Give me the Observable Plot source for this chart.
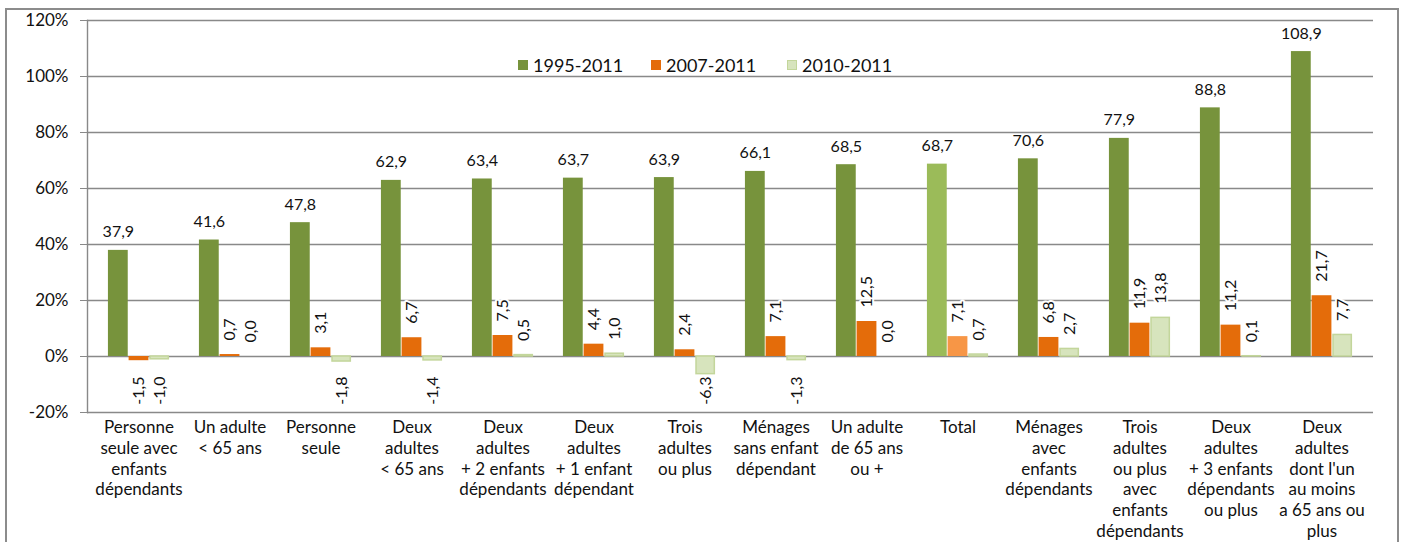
<!DOCTYPE html>
<html><head><meta charset="utf-8">
<script src="https://cdn.jsdelivr.net/npm/d3@7"></script>
<script src="https://cdn.jsdelivr.net/npm/@observablehq/plot@0.6"></script>
<style>
body{margin:0;background:#fff;font-family:Lato,"Open Sans",sans-serif;}
#wrap{position:relative;width:1403px;height:542px;overflow:hidden;}
#border{position:absolute;left:5px;top:8px;width:1390px;height:600px;border:2px solid #8c8c8c;pointer-events:none;}
.leg{position:absolute;top:54px;font-size:18px;color:#111;display:flex;align-items:center;white-space:nowrap;line-height:22px;}
.sw{width:10px;height:10px;margin-right:5px;box-sizing:border-box;}
</style></head><body>
<div id="wrap"><div id="chart"></div><div id="border"></div><div id="legend"></div></div>
<script>
const categories = [
  "Personne\nseule avec\nenfants\ndépendants",
  "Un adulte\n< 65 ans",
  "Personne\nseule",
  "Deux\nadultes\n< 65 ans",
  "Deux\nadultes\n+ 2 enfants\ndépendants",
  "Deux\nadultes\n+ 1 enfant\ndépendant",
  "Trois\nadultes\nou plus",
  "Ménages\nsans enfant\ndépendant",
  "Un adulte\nde 65 ans\nou +",
  "Total",
  "Ménages\navec\nenfants\ndépendants",
  "Trois\nadultes\nou plus\navec\nenfants\ndépendants",
  "Deux\nadultes\n+ 3 enfants\ndépendants\nou plus",
  "Deux\nadultes\ndont l'un\nau moins\na 65 ans ou\nplus"
];
const seriesNames = ["1995-2011", "2007-2011", "2010-2011"];
const s1995 = [37.9, 41.6, 47.8, 62.9, 63.4, 63.7, 63.9, 66.1, 68.5, 68.7, 70.6, 77.9, 88.8, 108.9];
const s2007 = [-1.5, 0.7, 3.1, 6.7, 7.5, 4.4, 2.4, 7.1, 12.5, 7.1, 6.8, 11.9, 11.2, 21.7];
const s2010 = [-1.0, 0.0, -1.8, -1.4, 0.5, 1.0, -6.3, -1.3, 0.0, 0.7, 2.7, 13.8, 0.1, 7.7];
const yTicks = [-20, 0, 20, 40, 60, 80, 100, 120];

const rows = categories.map((c, i) => ({cat: c, v1995: s1995[i], v2007: s2007[i], v2010: s2010[i]}));

const W = 1403, H = 542, ML = 87, MR = 30, MT = 20, MB = 130;
const step = (W - ML - MR) / categories.length;
const barW = step * 0.225;
const inL = k => step * (0.1625 + 0.225 * k);
const inR = k => step - inL(k) - barW;
const off = k => step * 0.225 * (k - 1);

const GRID = "#898989";
const colors = {
  g: "#77933C", gT: "#9BBB59",
  o: "#E46C0A", oT: "#F79646",
  l: "#D7E4BD", lS: "#C3D69B"
};
const isT = d => d.cat === "Total";
const fmt = v => v.toFixed(1).replace(".", ",");
const TXT = "#111";

// positive labels sit above the bar end; negative labels sit below the zero baseline
const rotLabels = (key, k) => [
  Plot.text(rows.filter(d => d[key] >= 0), {x: "cat", y: key, text: d => fmt(d[key]), rotate: -90,
    textAnchor: "start", lineAnchor: "middle", dx: off(k), dy: -14, fontSize: 16, fill: TXT,
    stroke: "white", strokeWidth: 4}),
  Plot.text(rows.filter(d => d[key] < 0), {x: "cat", y: () => 0, text: d => fmt(d[key]), rotate: -90,
    textAnchor: "end", lineAnchor: "middle", dx: off(k), dy: 20, fontSize: 16, fill: TXT,
    stroke: "white", strokeWidth: 4})
];

const chart = Plot.plot({
  width: W, height: H,
  marginLeft: ML, marginRight: MR, marginTop: MT, marginBottom: MB,
  style: {fontFamily: "Lato, 'Open Sans', sans-serif", background: "transparent", overflow: "visible"},
  x: {type: "band", domain: categories, padding: 0, label: null},
  y: {domain: [-20, 120], label: null},
  marks: [
    Plot.ruleY(yTicks, {stroke: GRID, strokeWidth: 1.4}),
    Plot.frame({anchor: "left", stroke: GRID, strokeWidth: 1.4}),
    Plot.axisY({ticks: yTicks, tickFormat: d => d + "%", tickSize: 7, tickPadding: 12, fontSize: 17,
      stroke: GRID, fill: TXT, label: null}),
    Plot.axisX({tickSize: 0, tickPadding: 6, fontSize: 17, lineHeight: 1.22, fill: TXT, label: null}),
    Plot.barY(rows, {x: "cat", y: "v1995", fill: d => isT(d) ? colors.gT : colors.g,
      insetLeft: inL(0), insetRight: inR(0)}),
    Plot.barY(rows, {x: "cat", y: "v2007", fill: d => isT(d) ? colors.oT : colors.o,
      insetLeft: inL(1), insetRight: inR(1)}),
    Plot.barY(rows, {x: "cat", y: "v2010", fill: colors.l, stroke: colors.lS, strokeWidth: 1.5,
      insetLeft: inL(2) + 0.75, insetRight: inR(2) + 0.75}),
    Plot.text(rows, {x: "cat", y: "v1995", text: d => fmt(d.v1995), dx: off(0), dy: -13,
      lineAnchor: "bottom", textAnchor: "middle", fontSize: 16, fill: TXT}),
    ...rotLabels("v2007", 1),
    ...rotLabels("v2010", 2)
  ]
});
document.getElementById("chart").appendChild(chart);

const legColors = [
  {fill: colors.g, stroke: "none"},
  {fill: colors.o, stroke: "none"},
  {fill: colors.l, stroke: colors.lS}
];
const legX = [518, 651, 787];
const leg = document.getElementById("legend");
seriesNames.forEach((n, i) => {
  const item = document.createElement("div");
  item.className = "leg";
  item.style.left = legX[i] + "px";
  const sw = document.createElement("div");
  sw.className = "sw";
  sw.style.background = legColors[i].fill;
  if (legColors[i].stroke !== "none") sw.style.border = "1.5px solid " + legColors[i].stroke;
  item.appendChild(sw);
  const t = document.createElement("span");
  t.textContent = n;
  item.appendChild(t);
  leg.appendChild(item);
});
</script>
</body></html>
